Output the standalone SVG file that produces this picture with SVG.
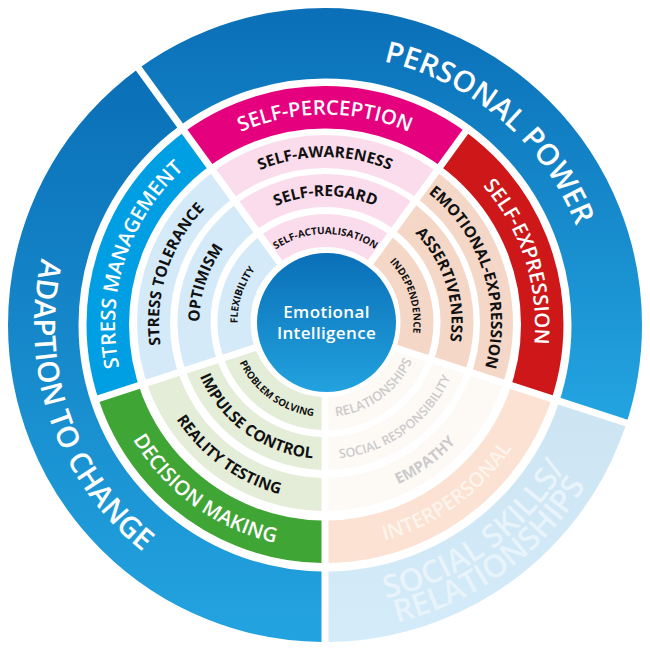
<svg xmlns="http://www.w3.org/2000/svg" width="650" height="650" viewBox="0 0 650 650">
<style>
text{font-family:"Open Sans","Liberation Sans",sans-serif;font-weight:700;text-anchor:middle}
circle{fill:none}
.r1{stroke-width:33}
.r4{stroke-width:42.5}
.r5{stroke-width:70.5}
.big{fill:#fff;font-size:29.5px;font-weight:600}
.soc{fill:#e8f3fa;font-size:31.5px;font-weight:600}
.mid{fill:#fff;font-size:20.2px;font-weight:600}
.k3{fill:#111;font-size:15.5px}
.k2{fill:#111;font-size:15.5px}
.k1{fill:#111;font-size:10px}
.g3{fill:#cbcbcb;font-size:15px}
.g2{fill:#cbcbcb;font-size:12.5px;font-weight:600}
.g1{fill:#cbcbcb;font-size:13px;font-weight:600}
.core{fill:#fff;font-size:17px;font-weight:600;letter-spacing:.35px}
</style>
<defs>
<linearGradient id="gPP" gradientUnits="userSpaceOnUse" x1="0" y1="8" x2="0" y2="400"><stop offset="0" stop-color="#0a6fb7"/><stop offset="1" stop-color="#22a2de"/></linearGradient>
<linearGradient id="gAC" gradientUnits="userSpaceOnUse" x1="0" y1="70" x2="0" y2="620"><stop offset="0" stop-color="#0a6fb7"/><stop offset="1" stop-color="#22a2de"/></linearGradient>
<linearGradient id="gCore" gradientUnits="userSpaceOnUse" x1="0" y1="253" x2="0" y2="392"><stop offset="0" stop-color="#0a6fb7"/><stop offset="1" stop-color="#22a2de"/></linearGradient>
<linearGradient id="gSoc" gradientUnits="userSpaceOnUse" x1="0" y1="400" x2="0" y2="642"><stop offset="0" stop-color="#cde4f3"/><stop offset="1" stop-color="#d4ecf9"/></linearGradient>
<clipPath id="s0"><polygon points="325,319.05 60.5,-45 589.5,-45"/></clipPath>
<clipPath id="s72"><polygon points="330.66,323.16 595.16,-40.89 758.66,462.21"/></clipPath>
<clipPath id="s144"><polygon points="328.5,329.81 756.5,468.86 328.5,779.81"/></clipPath>
<clipPath id="s216"><polygon points="321.5,329.81 321.5,779.81 -106.5,468.86"/></clipPath>
<clipPath id="s288"><polygon points="319.34,323.16 -108.66,462.21 54.84,-40.89"/></clipPath>
<clipPath id="pp"><polygon points="327.16,322.02 62.66,-42 760,-42 755.16,461.07"/></clipPath>
<clipPath id="ac"><polygon points="321.5,326.14 321.5,776 -110,776 -110,-38 57,-38"/></clipPath>
<path id="cw88" d="M237.5 322A88 88 0 0 1 413.5 322"/>
<path id="cw126" d="M199.5 322A126 126 0 0 1 451.5 322"/>
<path id="cw166" d="M159 323A166 166 0 0 1 491 323"/>
<path id="cw210" d="M115 324.5A210 210 0 0 1 535 324.5"/>
<path id="cw270" d="M55 325A270 270 0 0 1 595 325"/>
<path id="ccw95" d="M230.5 322A95 95 0 0 0 420.5 322"/>
<path id="ccw137" d="M188.5 322A137 137 0 0 0 462.5 322"/>
<path id="ccw177" d="M148 323A177 177 0 0 0 502 323"/>
<path id="ccw224" d="M101 324.5A224 224 0 0 0 549 324.5"/>
<path id="ccw280" d="M45 325A280 280 0 0 0 605 325"/>
<path id="ccw291" d="M34 325A291 291 0 0 0 616 325"/>
<path id="ccw306" d="M19 325A306 306 0 0 0 631 325"/>
</defs>
<rect width="650" height="650" fill="#fff"/>

<g id="personal-power">
<circle class="r5" cx="325" cy="325" r="281.75" stroke="url(#gPP)" clip-path="url(#pp)"/>
<text class="big" transform="rotate(40.5 325 325)"><textPath href="#cw270" startOffset="50%">PERSONAL POWER</textPath></text>
</g>
<g id="adaption-to-change">
<circle class="r5" cx="325" cy="325" r="281.75" stroke="url(#gAC)" clip-path="url(#ac)"/>
<text class="big" transform="rotate(71 325 325)"><textPath href="#ccw291" startOffset="50%">ADAPTION TO CHANGE</textPath></text>
</g>
<g id="social-skills-relationships">
<circle class="r5" cx="325" cy="325" r="281.75" stroke="url(#gSoc)" clip-path="url(#s144)"/>
<text class="soc" transform="rotate(-36 325 325)"><textPath href="#ccw280" startOffset="50%">SOCIAL SKILLS/</textPath></text>
<text class="soc" transform="rotate(-36 325 325)"><textPath href="#ccw306" startOffset="50%">RELATIONSHIPS</textPath></text>
</g>

<g id="self-perception">
<circle class="r4" cx="325" cy="324.5" r="217.25" stroke="#e5007e" clip-path="url(#s0)"/>
<text class="mid"><textPath href="#cw210" startOffset="50%">SELF-PERCEPTION</textPath></text>
</g>
<g id="self-expression">
<circle class="r4" cx="325" cy="324.5" r="217.25" stroke="#cd1719" clip-path="url(#s72)"/>
<text class="mid" transform="rotate(72 325 324.5)"><textPath href="#cw210" startOffset="50%">SELF-EXPRESSION</textPath></text>
</g>
<g id="interpersonal">
<circle class="r4" cx="325" cy="324.5" r="217.25" stroke="#fbe2d2" clip-path="url(#s144)"/>
<text class="mid" style="fill:#fdf4ee" transform="rotate(-36 325 324.5)"><textPath href="#ccw224" startOffset="50%">INTERPERSONAL</textPath></text>
</g>
<g id="decision-making">
<circle class="r4" cx="325" cy="324.5" r="217.25" stroke="#3fa535" clip-path="url(#s216)"/>
<text class="mid" transform="rotate(36 325 324.5)"><textPath href="#ccw224" startOffset="50%">DECISION MAKING</textPath></text>
</g>
<g id="stress-management">
<circle class="r4" cx="325" cy="324.5" r="217.25" stroke="#009fe3" clip-path="url(#s288)"/>
<text class="mid" transform="rotate(-72 325 324.5)"><textPath href="#cw210" startOffset="50%">STRESS MANAGEMENT</textPath></text>
</g>

<g id="self-awareness">
<circle class="r1" cx="325" cy="323" r="171.5" stroke="#fbdcec" clip-path="url(#s0)"/>
<text class="k3"><textPath href="#cw166" startOffset="50%">SELF-AWARENESS</textPath></text>
</g>
<g id="self-regard">
<circle class="r1" cx="325.5" cy="322" r="131.5" stroke="#fbdcec" clip-path="url(#s0)"/>
<text class="k2"><textPath href="#cw126" startOffset="50%">SELF-REGARD</textPath></text>
</g>
<g id="self-actualisation">
<circle class="r1" cx="325.5" cy="322" r="91.5" stroke="#fbdcec" clip-path="url(#s0)"/>
<text class="k1"><textPath href="#cw88" startOffset="50%">SELF-ACTUALISATION</textPath></text>
</g>

<g id="emotional-expression">
<circle class="r1" cx="325" cy="323" r="171.5" stroke="#f5d7c8" clip-path="url(#s72)"/>
<text class="k3" transform="rotate(72 325 323)"><textPath href="#cw166" startOffset="50%">EMOTIONAL-EXPRESSION</textPath></text>
</g>
<g id="assertiveness">
<circle class="r1" cx="325.5" cy="322" r="131.5" stroke="#f5d7c8" clip-path="url(#s72)"/>
<text class="k2" transform="rotate(72 325.5 322)"><textPath href="#cw126" startOffset="50%">ASSERTIVENESS</textPath></text>
</g>
<g id="independence">
<circle class="r1" cx="325.5" cy="322" r="91.5" stroke="#f5d7c8" clip-path="url(#s72)"/>
<text class="k1" transform="rotate(72 325.5 322)"><textPath href="#cw88" startOffset="50%">INDEPENDENCE</textPath></text>
</g>

<g id="empathy">
<circle class="r1" cx="325" cy="323" r="171.5" stroke="#fdf9f5" clip-path="url(#s144)"/>
<text class="g3" transform="rotate(-36 325 323)"><textPath href="#ccw177" startOffset="50%">EMPATHY</textPath></text>
</g>
<g id="social-responsibility">
<circle class="r1" cx="325.5" cy="322" r="131.5" stroke="#fdf9f5" clip-path="url(#s144)"/>
<text class="g2" transform="rotate(-36 325.5 322)"><textPath href="#ccw137" startOffset="50%">SOCIAL RESPONSIBILITY</textPath></text>
</g>
<g id="relationships">
<circle class="r1" cx="325.5" cy="322" r="91.5" stroke="#fdf9f5" clip-path="url(#s144)"/>
<text class="g1" transform="rotate(-36 325.5 322)"><textPath href="#ccw95" startOffset="50%">RELATIONSHIPS</textPath></text>
</g>

<g id="reality-testing">
<circle class="r1" cx="325" cy="323" r="171.5" stroke="#e3edd8" clip-path="url(#s216)"/>
<text class="k3" transform="rotate(36 325 323)"><textPath href="#ccw177" startOffset="50%">REALITY TESTING</textPath></text>
</g>
<g id="impulse-control">
<circle class="r1" cx="325.5" cy="322" r="131.5" stroke="#e3edd8" clip-path="url(#s216)"/>
<text class="k2" transform="rotate(36 325.5 322)"><textPath href="#ccw137" startOffset="50%">IMPULSE CONTROL</textPath></text>
</g>
<g id="problem-solving">
<circle class="r1" cx="325.5" cy="322" r="91.5" stroke="#e3edd8" clip-path="url(#s216)"/>
<text class="k1" transform="rotate(36 325.5 322)"><textPath href="#ccw95" startOffset="50%">PROBLEM SOLVING</textPath></text>
</g>

<g id="stress-tolerance">
<circle class="r1" cx="325" cy="323" r="171.5" stroke="#d4eaf9" clip-path="url(#s288)"/>
<text class="k3" transform="rotate(-72 325 323)"><textPath href="#cw166" startOffset="50%">STRESS TOLERANCE</textPath></text>
</g>
<g id="optimism">
<circle class="r1" cx="325.5" cy="322" r="131.5" stroke="#d4eaf9" clip-path="url(#s288)"/>
<text class="k2" transform="rotate(-72 325.5 322)"><textPath href="#cw126" startOffset="50%">OPTIMISM</textPath></text>
</g>
<g id="flexibility">
<circle class="r1" cx="325.5" cy="322" r="91.5" stroke="#d4eaf9" clip-path="url(#s288)"/>
<text class="k1" transform="rotate(-72 325.5 322)"><textPath href="#cw88" startOffset="50%">FLEXIBILITY</textPath></text>
</g>

<g id="emotional-intelligence">
<circle cx="326.5" cy="322.5" r="69.5" style="fill:url(#gCore)"/>
<text class="core" x="326.5" y="318">Emotional</text>
<text class="core" x="326.5" y="339">Intelligence</text>
</g>
</svg>
